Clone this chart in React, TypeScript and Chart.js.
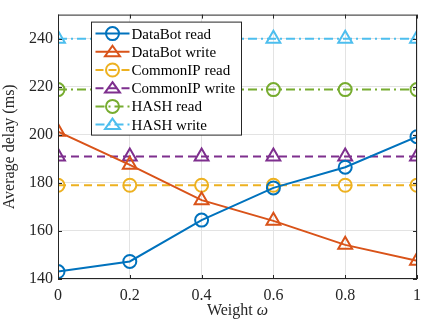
import React, { useEffect, useRef } from "react";
import { Chart, registerables } from "chart.js";

Chart.register(...registerables);

const weights = [0, 0.2, 0.4, 0.6, 0.8, 1];
const xTicks = [0, 0.2, 0.4, 0.6, 0.8, 1];
const yTicks = [140, 160, 180, 200, 220, 240];

const dataBotRead = [143.1, 147.3, 164.5, 177.9, 186.5, 199.2];
const dataBotWrite = [201.3, 187.5, 172.8, 164.2, 154.2, 147.6];
const commonIPRead = [179, 179, 179, 179, 179, 179];
const commonIPWrite = [191, 191, 191, 191, 191, 191];
const hashRead = [218.8, 218.8, 218.8, 218.8, 218.8, 218.8];
const hashWrite = [240, 240, 240, 240, 240, 240];

const seriesNames = [
  "DataBot read",
  "DataBot write",
  "CommonIP read",
  "CommonIP write",
  "HASH read",
  "HASH write",
];
const seriesColors = ["#0072BD", "#D95319", "#EDB120", "#7E2F8E", "#77AC30", "#4DBEEE"];
const seriesDash: number[][] = [[], [], [8, 5], [8, 5], [9, 4, 2, 4], [9, 4, 2, 4]];
const seriesMarker = ["circle", "triangle", "circle", "triangle", "circle", "triangle"];

const xTitleMain = "Weight ";
const xTitleSymbol = "ω";

const FONT = "'Liberation Serif', 'Times New Roman', serif";

const framePlugin = {
  id: "frame",
  afterDatasetsDraw(chart: any) {
    const { ctx, chartArea } = chart;
    const { left, right, top, bottom } = chartArea;
    ctx.save();
    ctx.strokeStyle = "#262626";
    ctx.lineWidth = 1;
    ctx.setLineDash([]);
    ctx.strokeRect(left + 0.5, top + 0.5, right - left - 1, bottom - top - 1);
    const xs = chart.scales.x;
    const ys = chart.scales.y;
    const tl = 4;
    ctx.beginPath();
    xTicks.forEach((v) => {
      const px = Math.round(xs.getPixelForValue(v)) + 0.5;
      ctx.moveTo(px, bottom);
      ctx.lineTo(px, bottom - tl);
      ctx.moveTo(px, top);
      ctx.lineTo(px, top + tl);
    });
    yTicks.forEach((v) => {
      const py = Math.round(ys.getPixelForValue(v)) + 0.5;
      ctx.moveTo(left, py);
      ctx.lineTo(left + tl, py);
      ctx.moveTo(right, py);
      ctx.lineTo(right - tl, py);
    });
    ctx.stroke();
    ctx.restore();
  },
  afterDraw(chart: any) {
    const { ctx, chartArea } = chart;
    // x-axis title with italic omega
    ctx.save();
    ctx.fillStyle = "#262626";
    ctx.textBaseline = "middle";
    ctx.textAlign = "left";
    ctx.font = `16px ${FONT}`;
    const w1 = ctx.measureText(xTitleMain).width;
    ctx.font = `italic 16px ${FONT}`;
    const w2 = ctx.measureText(xTitleSymbol).width;
    const cx0 = (chartArea.left + chartArea.right) / 2 - (w1 + w2) / 2;
    const ty = chartArea.bottom + 32;
    ctx.font = `16px ${FONT}`;
    ctx.fillText(xTitleMain, cx0, ty);
    ctx.font = `italic 16px ${FONT}`;
    ctx.fillText(xTitleSymbol, cx0 + w1, ty);
    ctx.restore();

    // legend
    const bx = chartArea.left + 33.5;
    const by = chartArea.top + 7.5;
    const bw = 150;
    const rowH = 18.2;
    const bh = 113;
    ctx.save();
    ctx.fillStyle = "#ffffff";
    ctx.fillRect(bx, by, bw, bh);
    ctx.strokeStyle = "#262626";
    ctx.lineWidth = 1;
    ctx.setLineDash([]);
    ctx.strokeRect(bx, by, bw, bh);
    ctx.font = `15px ${FONT}`;
    ctx.textBaseline = "middle";
    ctx.textAlign = "left";
    seriesNames.forEach((name, i) => {
      const cy = by + 11.5 + i * rowH;
      const x0 = bx + 4;
      const x1 = bx + 38;
      const cx = (x0 + x1) / 2;
      ctx.strokeStyle = seriesColors[i];
      ctx.lineWidth = 2;
      ctx.setLineDash(seriesDash[i]);
      ctx.beginPath();
      ctx.moveTo(x0, cy);
      ctx.lineTo(x1, cy);
      ctx.stroke();
      ctx.setLineDash([]);
      ctx.beginPath();
      const r = 6.5;
      if (seriesMarker[i] === "circle") {
        ctx.arc(cx, cy, r, 0, Math.PI * 2);
      } else {
        const h = r * 1.5;
        ctx.moveTo(cx, cy - h * 0.62);
        ctx.lineTo(cx + r * 1.15, cy + h * 0.45);
        ctx.lineTo(cx - r * 1.15, cy + h * 0.45);
        ctx.closePath();
      }
      ctx.stroke();
      ctx.fillStyle = "#000000";
      ctx.fillText(name, bx + 40, cy + 1);
    });
    ctx.restore();
  },
};

const allSeries = [dataBotRead, dataBotWrite, commonIPRead, commonIPWrite, hashRead, hashWrite];

export default function App() {
  const ref = useRef<HTMLCanvasElement>(null);
  useEffect(() => {
    if (!ref.current) return;
    const chart = new Chart(ref.current, {
      type: "line",
      data: {
        datasets: allSeries.map((vals, i) => ({
          label: seriesNames[i],
          data: vals.map((v, j) => ({ x: weights[j], y: v })),
          borderColor: seriesColors[i],
          backgroundColor: "transparent",
          borderWidth: 2,
          borderDash: seriesDash[i],
          pointStyle: seriesMarker[i] as any,
          pointRadius: seriesMarker[i] === "circle" ? 6.5 : 8,
          pointBorderWidth: 2,
          pointBorderColor: seriesColors[i],
          pointBackgroundColor: "transparent",
          tension: 0,
          fill: false,
        })),
      },
      options: {
        responsive: false,
        animation: false,
        layout: { padding: { top: 3, right: 9, left: 0, bottom: 0 } },
        plugins: {
          legend: { display: false },
          tooltip: { enabled: false },
        },
        scales: {
          x: {
            type: "linear",
            min: 0,
            max: 1,
            afterBuildTicks: (s: any) => {
              s.ticks = xTicks.map((v) => ({ value: v }));
            },
            afterFit: (s: any) => {
              s.height = 45;
            },
            ticks: {
              color: "#262626",
              font: { family: FONT, size: 16 },
              padding: 7,
              maxRotation: 0,
              callback: (v: any) => String(Number(v)),
            },
            grid: { color: "#e3e3e3", drawTicks: false, lineWidth: 1 },
            border: { display: false },
            title: { display: false },
          },
          y: {
            type: "linear",
            min: 140,
            max: 250,
            afterBuildTicks: (s: any) => {
              s.ticks = yTicks.map((v) => ({ value: v }));
            },
            afterFit: (s: any) => {
              s.width = 58;
            },
            ticks: {
              color: "#262626",
              font: { family: FONT, size: 16 },
              padding: 5,
            },
            grid: { color: "#e3e3e3", drawTicks: false, lineWidth: 1 },
            border: { display: false },
            title: {
              display: true,
              text: "Average delay (ms)",
              color: "#262626",
              font: { family: FONT, size: 16 },
              padding: { top: 0, bottom: 2 },
            },
          },
        },
      },
      plugins: [framePlugin],
    });
    return () => chart.destroy();
  }, []);
  return (
    <div style={{ position: "fixed", left: 0, top: 0, width: 428, height: 324, background: "#fff" }}>
      <canvas ref={ref} width={428} height={324} style={{ width: 428, height: 324 }} />
    </div>
  );
}
